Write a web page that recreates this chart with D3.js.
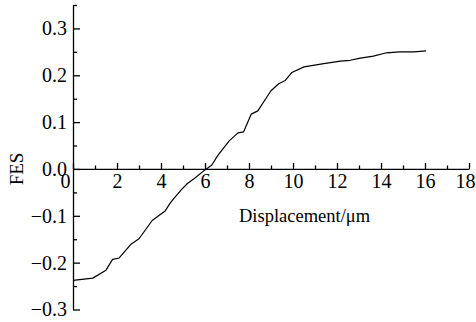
<!DOCTYPE html>
<html><head><meta charset="utf-8">
<script src="https://cdn.jsdelivr.net/npm/d3@7"></script>
<style>html,body{margin:0;padding:0;background:#fff;}
svg text{font-family:"Liberation Serif","Times New Roman",serif;}</style>
</head><body>
<svg id="chart" width="476" height="322"></svg>
<script>
const dispX = [0, 0.9, 1.5, 1.8, 2.1, 2.65, 3.0, 3.6, 4.2, 4.4, 4.55, 4.95, 5.2, 5.5, 6.0, 6.3, 6.6, 7.1, 7.5, 7.75, 8.1, 8.4, 9.0, 9.35, 9.65, 9.95, 10.5, 11.4, 12.15, 12.6, 13.0, 13.65, 14.25, 14.85, 15.5, 16.05];
const fesY = [-0.238, -0.233, -0.216, -0.193, -0.190, -0.160, -0.149, -0.110, -0.089, -0.074, -0.065, -0.043, -0.031, -0.021, -0.002, 0.008, 0.030, 0.060, 0.077, 0.079, 0.117, 0.124, 0.167, 0.182, 0.189, 0.206, 0.218, 0.225, 0.230, 0.232, 0.236, 0.241, 0.248, 0.250, 0.250, 0.252];
const xMajorTicks = [0, 2, 4, 6, 8, 10, 12, 14, 16, 18];
const xMinorTicks = [1, 3, 5, 7, 9, 11, 13, 15, 17];
const yMajorTicks = [-0.3, -0.2, -0.1, 0.0, 0.1, 0.2, 0.3];
const yMinorTicks = [-0.25, -0.15, -0.05, 0.05, 0.15, 0.25, 0.35];
const xTitle = "Displacement/μm";
const yTitle = "FES";

const svg = d3.select("#chart");
const FONT = "Liberation Serif, Times New Roman, serif";
const x = d3.scaleLinear().domain([0, 18]).range([73, 469]);
const y = d3.scaleLinear().domain([-0.3, 0.35]).range([309.5, 5]);
const y0 = y(0);

function styleAxis(g) {
  g.attr("font-family", FONT).attr("font-size", 20);
  g.selectAll("path,line").attr("stroke", "#000").attr("stroke-width", 1.3);
  g.selectAll("text").attr("fill", "#000").attr("font-family", FONT).attr("font-size", 20);
}

// x axis minor
svg.append("g").attr("transform", `translate(0,${y0})`)
  .call(d3.axisBottom(x).tickValues(xMinorTicks).tickSize(-3.5).tickSizeOuter(0).tickFormat(""))
  .call(styleAxis).select(".domain").remove();
// x axis major
const gx = svg.append("g").attr("transform", `translate(0,${y0})`)
  .call(d3.axisBottom(x).tickValues(xMajorTicks).tickSize(-6).tickSizeOuter(0).tickPadding(5).tickFormat(d3.format("d")))
  .call(styleAxis);
gx.selectAll(".tick").filter(d => d === 0).select("text").attr("dx", -8);
gx.selectAll(".tick").filter(d => d === 18).select("text").attr("dx", -4);

// y axis minor
svg.append("g").attr("transform", `translate(${x(0)},0)`)
  .call(d3.axisLeft(y).tickValues(yMinorTicks).tickSize(-4).tickSizeOuter(0).tickFormat(""))
  .call(styleAxis).select(".domain").remove();
// y axis major
svg.append("g").attr("transform", `translate(${x(0)},0)`)
  .call(d3.axisLeft(y).tickValues(yMajorTicks).tickSize(-7).tickSizeOuter(0).tickPadding(6)
    .tickFormat(d => d3.format(".1f")(d).replace("-", "\u2212")))
  .call(styleAxis);

// curve
const data = dispX.map((d, i) => [d, fesY[i]]);
svg.append("path").datum(data)
  .attr("fill", "none").attr("stroke", "#000").attr("stroke-width", 1.2)
  .attr("stroke-linejoin", "round")
  .attr("d", d3.line().x(d => x(d[0])).y(d => y(d[1])));

// titles
svg.append("text").attr("x", 239).attr("y", 222)
  .attr("font-family", FONT).attr("font-size", 18.5).attr("fill", "#000")
  .text(xTitle);
svg.append("text").attr("transform", `translate(23,${y0}) rotate(-90)`)
  .attr("text-anchor", "middle")
  .attr("font-family", FONT).attr("font-size", 19).attr("fill", "#000")
  .text(yTitle);
</script>
</body></html>
